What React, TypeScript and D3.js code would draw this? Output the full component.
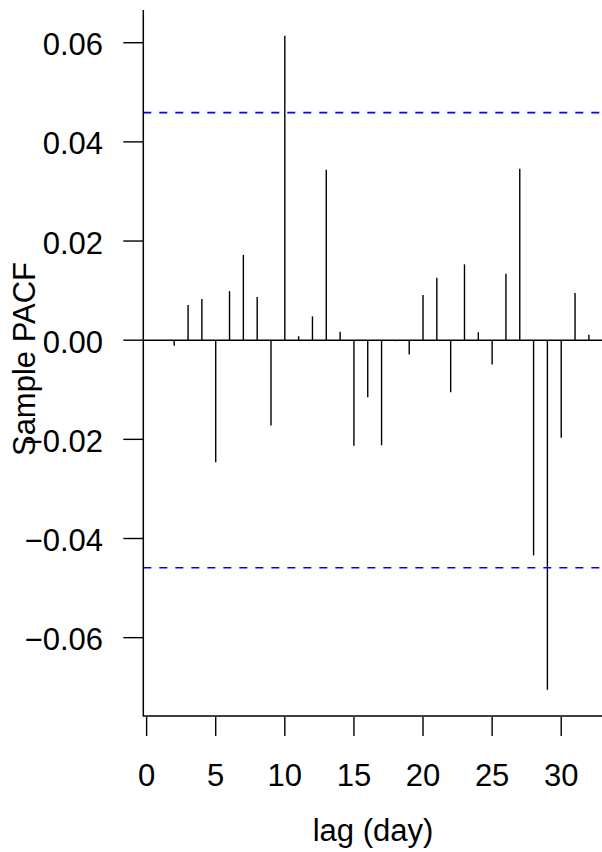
import React from "react";
import * as d3 from "d3";

const lags = [1,2,3,4,5,6,7,8,9,10,11,12,13,14,15,16,17,18,19,20,21,22,23,24,25,26,27,28,29,30,31,32];
const pacf = [-0.0001,-0.0011,0.0071,0.0083,-0.0246,0.0099,0.0172,0.0087,-0.0172,0.0614,0.0008,0.0048,0.0344,0.0017,-0.0213,-0.0115,-0.0212,-0.0002,-0.0029,0.0091,0.0126,-0.0105,0.0153,0.0016,-0.0049,0.0134,0.0346,-0.0434,-0.0705,-0.0197,0.0095,0.0011];
const ciBound = 0.0459;
const yTicks = [-0.06,-0.04,-0.02,0.0,0.02,0.04,0.06];
const xTicks = [0,5,10,15,20,25,30];

const W = 602, H = 852;
const left = 143.3, right = 606, top = 10, bottom = 716;

export default function App() {
  const x = d3.scaleLinear().domain([-0.24, 33.24]).range([left, right]);
  const y = d3.scaleLinear().domain([-0.0758, 0.0666]).range([bottom, top]);
  const font = "'Liberation Sans', Arial, sans-serif";
  const fs = 31;
  return (
    <svg width={W} height={H} style={{ position: "absolute", left: 0, top: 0, background: "#fff" }}>
      <rect x={0} y={0} width={W} height={H} fill="#fff" />
      <line x1={left} x2={W} y1={y(0)} y2={y(0)} stroke="#000" strokeWidth={1.4} />
      {lags.map((l, i) => (
        <line key={l} x1={x(l)} x2={x(l)} y1={y(0)} y2={y(pacf[i])} stroke="#000" strokeWidth={1.4} />
      ))}
      {[ciBound, -ciBound].map((c, i) => (
        <line key={i} x1={left} x2={W} y1={y(c)} y2={y(c)} stroke="#0000ff" strokeWidth={1.6} strokeDasharray="8,8" />
      ))}
      <path d={`M${left},${top}V${bottom}H${W}`} fill="none" stroke="#000" strokeWidth={1.5} />
      {yTicks.map((t) => (
        <g key={t}>
          <line x1={left - 20} x2={left} y1={y(t)} y2={y(t)} stroke="#000" strokeWidth={1.4} />
          <text x={103} y={y(t) + 12.5} textAnchor="end" fontFamily={font} fontSize={fs} fill="#000">
            {d3.format(".2f")(t).replace("-", "\u2212")}
          </text>
        </g>
      ))}
      {xTicks.map((t) => (
        <g key={t}>
          <line x1={x(t)} x2={x(t)} y1={bottom + 1} y2={bottom + 20} stroke="#000" strokeWidth={1.4} />
          <text x={x(t)} y={786} textAnchor="middle" fontFamily={font} fontSize={fs} fill="#000">
            {t}
          </text>
        </g>
      ))}
      <text x={373} y={841} textAnchor="middle" fontFamily={font} fontSize={fs} fill="#000">lag (day)</text>
      <text transform={`translate(35,359) rotate(-90)`} textAnchor="middle" fontFamily={font} fontSize={fs} fill="#000">Sample PACF</text>
    </svg>
  );
}
